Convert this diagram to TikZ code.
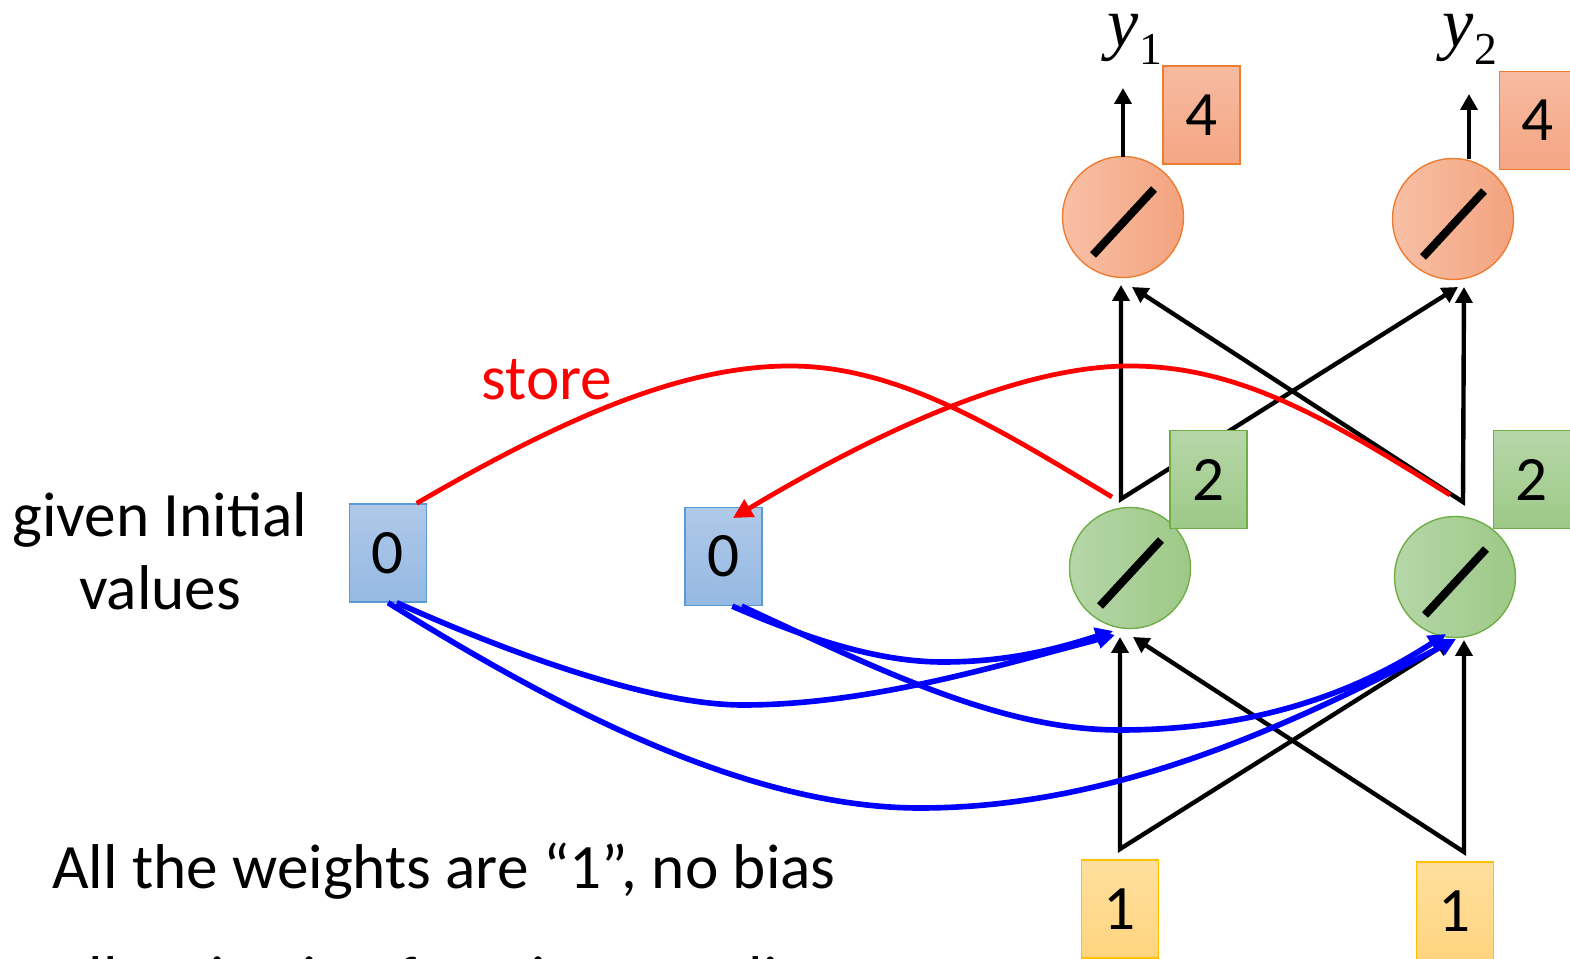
\documentclass[tikz,border=0pt]{standalone}
\usepackage{fontspec}
\setmainfont{Carlito}
\newfontfamily\tnr{Liberation Serif}
\usetikzlibrary{arrows.meta}
\definecolor{orline}{HTML}{ED7D31}
\definecolor{grline}{HTML}{70AD47}
\definecolor{blline}{HTML}{5B9BD5}
\definecolor{yeline}{HTML}{FFC000}
\definecolor{orA}{HTML}{F8C0A6}
\definecolor{orB}{HTML}{F3A37F}
\definecolor{orC}{HTML}{F7BBA1}
\definecolor{orD}{HTML}{F4A584}
\definecolor{grA}{HTML}{B6D6A8}
\definecolor{grB}{HTML}{9DC987}
\definecolor{blA}{HTML}{AFC9E8}
\definecolor{blB}{HTML}{95B9E3}
\definecolor{yeA}{HTML}{FFDF9E}
\definecolor{yeB}{HTML}{FFD47F}
\tikzset{
  neuron/.style={circle, minimum size=2.42cm, inner sep=0pt, draw, line width=0.8pt},
  lin/.style={path picture={\draw[black, line width=4.6pt] ([shift={(-30,38)}]path picture bounding box.center) -- ([shift={(31,-28)}]path picture bounding box.center);}},
  outcol/.style={draw=orline, left color=orA, right color=orB},
  hidcol/.style={draw=grline, left color=grA, right color=grB},
  valbox/.style={rectangle, minimum width=1.54cm, minimum height=1.96cm, inner sep=0pt, draw, line width=0.8pt},
  outbox/.style={valbox, draw=orline, top color=orC, bottom color=orD},
  hidbox/.style={valbox, draw=grline, top color=grA, bottom color=grB},
  membox/.style={valbox, draw=blline, top color=blA, bottom color=blB},
  inbox/.style={valbox, draw=yeline, top color=yeA, bottom color=yeB},
  wire/.style={line width=2.5pt, line join=miter, {Triangle[length=9pt,width=9.5pt]}-{Triangle[length=9pt,width=9.5pt]}},
  outwire/.style={line width=2.5pt, -{Triangle[length=9pt,width=9.5pt]}},
  storeline/.style={red, line width=2.7pt},
  feed/.style={blue, line width=3.2pt, -{Triangle[length=10pt,width=10pt]}}
}

\begin{document}
\begin{tikzpicture}[x=0.02cm, y=-0.02cm, every node/.style={font=\fontsize{36}{36}\selectfont}]
\useasboundingbox (0,0) rectangle (1570,959);

% neurons
\node[neuron, outcol, lin] (o1) at (1123,217) {};
\node[neuron, outcol, lin] (o2) at (1453,219) {};
\node[neuron, hidcol, lin] (h1) at (1130,568) {};
\node[neuron, hidcol, lin] (h2) at (1455,577) {};

% memory and inputs
\node[membox] (m1) at (388,553) {0};
\node[membox] (m2) at (723.5,556.5) {0};
\node[inbox] (x1) at (1120,909) {1};
\node[inbox] (x2) at (1455,911) {1};

\coordinate (x1a) at (1120,849);
\coordinate (x2a) at (1464,852);
\coordinate (h1a) at (1121,499);
\coordinate (h2a) at (1463,502);
\coordinate (h1v) at (1120,637);
\coordinate (h1d) at (1133,637);
\coordinate (h2v) at (1464,640);
\coordinate (h2d) at (1452,640);
\coordinate (o1v) at (1121,285);
\coordinate (o1d) at (1132,287);
\coordinate (o2v) at (1464,287);
\coordinate (o2d) at (1458,287);
\coordinate (o1o) at (1123,157);
\coordinate (o2o) at (1469,159);
\coordinate (y1t) at (1123,88);
\coordinate (y2t) at (1469,94);
\coordinate (h1r) at (1112,497);
\coordinate (h2r) at (1450,495);
\coordinate (m2r) at (733,518);
\coordinate (h1fa) at (1115,635);
\coordinate (h1fc) at (1113,631);
\coordinate (h2fb) at (1456,639);
\coordinate (h2fd) at (1446,634);

% weights
\draw[wire] (h2d) -- (x1a) -- (h1v);
\draw[wire] (h1d) -- (x2a) -- (h2v);
\draw[wire] (o2d) -- (h1a) -- (o1v);
\draw[wire] (o1d) -- (h2a) -- (o2v);
\draw[outwire] (o1o) -- (y1t);
\draw[outwire] (o2o) -- (y2t);

\node[anchor=base, inner sep=0pt] (y1) at (1135,47) {\tnr\fontsize{40}{40}\selectfont\textit{y}\raisebox{-0.25em}{\fontsize{26}{26}\selectfont 1}};
\node[anchor=base, inner sep=0pt] (y2) at (1470,47) {\tnr\fontsize{40}{40}\selectfont\textit{y}\raisebox{-0.25em}{\fontsize{26}{26}\selectfont 2}};

% copy to memory
\draw[storeline] (h1r) .. controls (1000,430) and (900,366) .. (790,366) .. controls (680,366) and (560,420) .. (m1.60);
\draw[storeline, -{Triangle[length=11pt,width=11pt]}] (h2r) .. controls (1330,420) and (1240,366) .. (1130,366) .. controls (1020,366) and (880,430) .. (m2r);
\node[red, anchor=base west, inner sep=0pt] (st) at (481,400) {store};

% memory feeds hidden layer
\draw[feed] (m1.-80) .. controls (480,640) and (640,705) .. (743,705) .. controls (870,705) and (1000,665) .. (h1fa);
\draw[feed] (m1.south) .. controls (560,710) and (750,808) .. (920,808) .. controls (1120,808) and (1300,720) .. (h2fb);
\draw[feed] (m2.-80) .. controls (810,640) and (880,662) .. (943,662) .. controls (1010,662) and (1060,648) .. (h1fc);
\draw[feed] (m2.-70) .. controls (880,670) and (1000,730) .. (1120,730) .. controls (1260,730) and (1360,690) .. (h2fd);

% values
\node[outbox] (v1) at (1201.5,115) {4};
\node[outbox] (v2) at (1538,120.5) {4};
\node[hidbox] (s1) at (1208.5,479.5) {2};
\node[hidbox] (s2) at (1532,479.5) {2};

\node[anchor=base, inner sep=0pt] (given) at (160,537) {given Initial};
\node[anchor=base, inner sep=0pt] (vals) at (160,610) {values};
\node[anchor=base west, inner sep=0pt] (note1) at (52,888) {All the weights are “1”, no bias};
\node[anchor=base west, inner sep=0pt] (note2) at (52,1000) {All activation functions are linear};
\end{tikzpicture}
\end{document}
